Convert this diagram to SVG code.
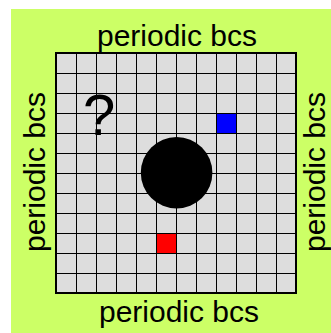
<svg xmlns="http://www.w3.org/2000/svg" width="331" height="333" viewBox="0 0 331 333">
  <style>
    .lbl { font-family: "Liberation Sans", Arial, sans-serif; font-size: 30px; fill: #000; text-anchor: middle; }
    .grid { stroke: #000; stroke-width: 1; fill: none; }
    .cell { stroke: #000; stroke-width: 1; }
  </style>
  <rect id="background" x="11" y="9" width="320" height="324" fill="#ccff66"/>
  <g id="domain">
    <rect x="56" y="53" width="240" height="240" fill="#dddddd"/>
    <path class="grid" d="M76.5 53V293M96.5 53V293M116.5 53V293M136.5 53V293M156.5 53V293M176.5 53V293M196.5 53V293M216.5 53V293M236.5 53V293M256.5 53V293M276.5 53V293M56 73.5H296M56 93.5H296M56 113.5H296M56 133.5H296M56 153.5H296M56 173.5H296M56 193.5H296M56 213.5H296M56 233.5H296M56 253.5H296M56 273.5H296"/>
    <rect x="56" y="53" width="240" height="240" fill="none" stroke="#000" stroke-width="2"/>
  </g>
  <g id="blue-cell"><rect class="cell" x="216.5" y="113.5" width="20" height="20" fill="#0000ff"/></g>
  <g id="red-cell"><rect class="cell" x="156.5" y="233.5" width="20" height="20" fill="#ff0000"/></g>
  <g id="obstacle"><circle cx="176.6" cy="172.8" r="35.8" fill="#000"/></g>
  <g id="question"><text x="83" y="135" font-family="Liberation Sans, Arial, sans-serif" font-size="58" fill="#000">?</text></g>
  <g id="labels">
    <text class="lbl" x="177" y="46">periodic bcs</text>
    <text class="lbl" x="179" y="321.5">periodic bcs</text>
    <text class="lbl" transform="translate(45,172) rotate(-90)">periodic bcs</text>
    <text class="lbl" transform="translate(325,172) rotate(-90)">periodic bcs</text>
  </g>
</svg>
